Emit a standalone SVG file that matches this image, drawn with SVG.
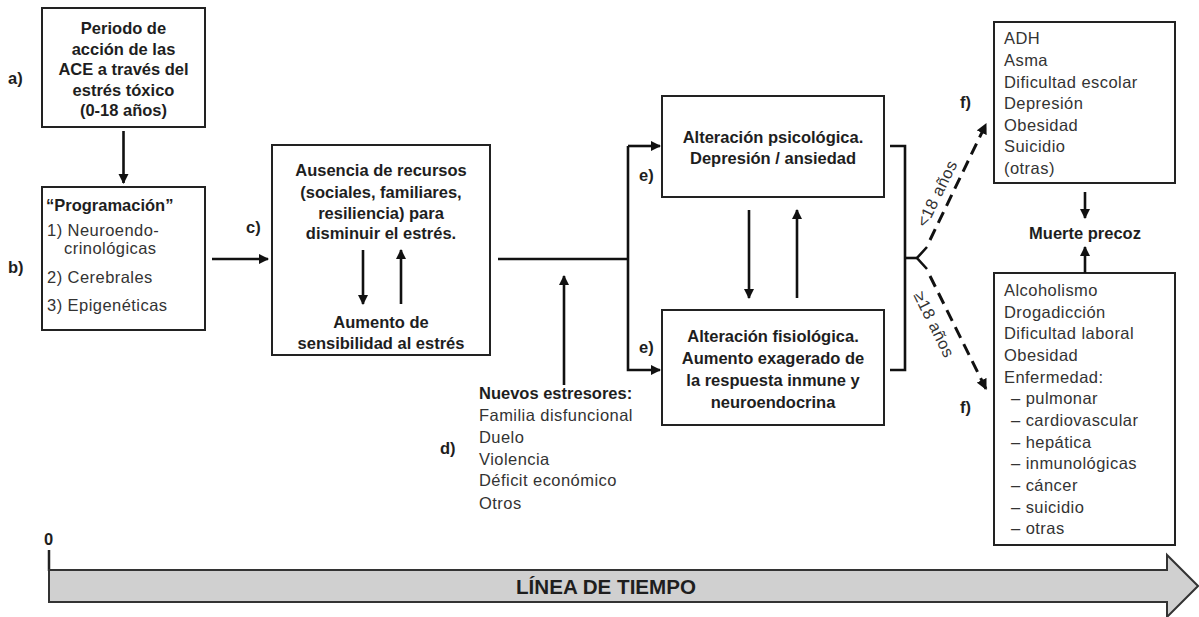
<svg xmlns="http://www.w3.org/2000/svg" width="1199" height="617" viewBox="0 0 1199 617">
<defs>
<style>
.box{fill:#fff;stroke:#222;stroke-width:2}
.b{font-family:"Liberation Sans",Arial,sans-serif;font-weight:bold;font-size:16.5px;fill:#1e1e1e}
.r{font-family:"Liberation Sans",Arial,sans-serif;font-size:16.5px;letter-spacing:0.45px;fill:#333}
.lbl{font-family:"Liberation Sans",Arial,sans-serif;font-weight:bold;font-size:16.5px;fill:#1e1e1e}
.c{text-anchor:middle}
.ln{fill:none;stroke:#111;stroke-width:2.6}
.dash{fill:none;stroke:#111;stroke-width:3;stroke-dasharray:12 7}
</style>
<marker id="ah" viewBox="0 0 10 10" refX="9" refY="5" markerWidth="4" markerHeight="4" orient="auto" markerUnits="strokeWidth">
<path d="M0,0 L10,5 L0,10 z" fill="#111"/>
</marker>
<marker id="ahd" viewBox="0 0 10 10" refX="9" refY="5" markerWidth="3.6" markerHeight="3.6" orient="auto" markerUnits="strokeWidth">
<path d="M0,0 L10,5 L0,10 z" fill="#111"/>
</marker>
</defs>
<rect width="1199" height="617" fill="#fff"/>

<g id="labels">
<text class="lbl" x="8" y="84">a)</text>
<text class="lbl" x="8" y="273">b)</text>
<text class="lbl" x="246" y="233">c)</text>
<text class="lbl" x="440" y="454">d)</text>
<text class="lbl" x="639" y="181">e)</text>
<text class="lbl" x="639" y="353">e)</text>
<text class="lbl" x="960" y="108">f)</text>
<text class="lbl" x="960" y="413">f)</text>
</g>

<g id="node-a">
<rect class="box" x="42" y="8" width="163" height="119"/>
<text class="b c" x="123.5" y="34">Periodo de</text>
<text class="b c" x="123.5" y="54.5">acción de las</text>
<text class="b c" x="123.5" y="75">ACE a través del</text>
<text class="b c" x="123.5" y="95.5">estrés tóxico</text>
<text class="b c" x="123.5" y="116">(0-18 años)</text>
</g>

<g id="node-b">
<rect class="box" x="42" y="187" width="163" height="143"/>
<text class="b" x="46" y="211">“Programación”</text>
<text class="r" x="47" y="235.5" font-size="16">1) Neuroendo-</text>
<text class="r" x="64" y="254" font-size="16">crinológicas</text>
<text class="r" x="47" y="283" font-size="16">2) Cerebrales</text>
<text class="r" x="47" y="311" font-size="16">3) Epigenéticas</text>
</g>

<g id="node-c">
<rect class="box" x="272" y="145" width="218" height="210"/>
<text class="b c" x="381" y="176">Ausencia de recursos</text>
<text class="b c" x="381" y="198">(sociales, familiares,</text>
<text class="b c" x="381" y="219">resiliencia) para</text>
<text class="b c" x="381" y="239">disminuir el estrés.</text>
<text class="b c" x="381" y="328">Aumento de</text>
<text class="b c" x="381" y="349">sensibilidad al estrés</text>
</g>

<g id="node-d">
<text class="b" x="479" y="399">Nuevos estresores:</text>
<text class="r" x="479" y="421">Familia disfuncional</text>
<text class="r" x="479" y="443">Duelo</text>
<text class="r" x="479" y="465">Violencia</text>
<text class="r" x="479" y="486">Déficit económico</text>
<text class="r" x="479" y="509">Otros</text>
</g>

<g id="node-e1">
<rect class="box" x="662" y="96" width="222" height="101"/>
<text class="b c" x="773" y="143">Alteración psicológica.</text>
<text class="b c" x="773" y="164">Depresión / ansiedad</text>
</g>

<g id="node-e2">
<rect class="box" x="662" y="310" width="222" height="115"/>
<text class="b c" x="773" y="342">Alteración fisiológica.</text>
<text class="b c" x="773" y="364">Aumento exagerado de</text>
<text class="b c" x="773" y="386">la respuesta inmune y</text>
<text class="b c" x="773" y="408">neuroendocrina</text>
</g>

<g id="node-f1">
<rect class="box" x="994" y="22" width="181" height="161"/>
<text class="r" x="1004" y="44">ADH</text>
<text class="r" x="1004" y="66">Asma</text>
<text class="r" x="1004" y="88">Dificultad escolar</text>
<text class="r" x="1004" y="109">Depresión</text>
<text class="r" x="1004" y="131">Obesidad</text>
<text class="r" x="1004" y="152">Suicidio</text>
<text class="r" x="1004" y="174">(otras)</text>
</g>

<g id="node-muerte">
<text class="b c" x="1085" y="239">Muerte precoz</text>
</g>

<g id="node-f2">
<rect class="box" x="994" y="273" width="181" height="272"/>
<text class="r" x="1004" y="296">Alcoholismo</text>
<text class="r" x="1004" y="318">Drogadicción</text>
<text class="r" x="1004" y="339">Dificultad laboral</text>
<text class="r" x="1004" y="361">Obesidad</text>
<text class="r" x="1004" y="383">Enfermedad:</text>
<text class="r" x="1011" y="404">– pulmonar</text>
<text class="r" x="1011" y="426">– cardiovascular</text>
<text class="r" x="1011" y="448">– hepática</text>
<text class="r" x="1011" y="469">– inmunológicas</text>
<text class="r" x="1011" y="491">– cáncer</text>
<text class="r" x="1011" y="513">– suicidio</text>
<text class="r" x="1011" y="534">– otras</text>
</g>

<g id="connectors">
<line class="ln" x1="123.5" y1="131" x2="123.5" y2="183" marker-end="url(#ah)"/>
<line class="ln" x1="212" y1="259" x2="268" y2="259" marker-end="url(#ah)"/>
<line class="ln" x1="363" y1="250" x2="363" y2="304" marker-end="url(#ah)"/>
<line class="ln" x1="401" y1="304" x2="401" y2="250" marker-end="url(#ah)"/>
<line class="ln" x1="498" y1="259" x2="628" y2="259"/>
<polyline class="ln" points="628,146 628,370 660,370" marker-end="url(#ah)"/>
<line class="ln" x1="628" y1="146" x2="660" y2="146" marker-end="url(#ah)"/>
<line class="ln" x1="564" y1="385" x2="564" y2="276" marker-end="url(#ah)"/>
<line class="ln" x1="749" y1="210" x2="749" y2="298" marker-end="url(#ah)"/>
<line class="ln" x1="797" y1="298" x2="797" y2="210" marker-end="url(#ah)"/>
<polyline class="ln" points="890,146 905,146 905,370 890,370"/>
<polyline class="ln" points="905,258 917,258"/>
<polyline class="ln" points="927,247 917,258 927,269"/>
<line class="dash" x1="930" y1="240" x2="986" y2="124" marker-end="url(#ahd)"/>
<line class="dash" x1="930" y1="276" x2="986" y2="389" marker-end="url(#ahd)"/>
<line class="ln" x1="1085" y1="192" x2="1085" y2="218" marker-end="url(#ah)"/>
<line class="ln" x1="1085" y1="273" x2="1085" y2="247" marker-end="url(#ah)"/>
</g>

<g id="age-labels">
<text class="r c" x="942" y="196" font-size="16" transform="rotate(-64 942 196)">&lt;18 años</text>
<text class="r c" x="929" y="327" font-size="16" transform="rotate(63.6 929 327)">≥18 años</text>
</g>

<g id="timeline">
<text class="lbl" x="44" y="545" font-size="13">0</text>
<line x1="49" y1="550" x2="49" y2="571" stroke="#222" stroke-width="2.5"/>
<path d="M49,570 L1167,570 L1167,555 L1198,586 L1167,617 L1167,602 L49,602 Z" fill="#d0d0d0" stroke="#333" stroke-width="2"/>
<text x="606" y="594" text-anchor="middle" font-family="Liberation Sans,Arial,sans-serif" font-weight="bold" font-size="21" fill="#1e1e1e" textLength="180" lengthAdjust="spacingAndGlyphs">LÍNEA DE TIEMPO</text>
</g>
</svg>
